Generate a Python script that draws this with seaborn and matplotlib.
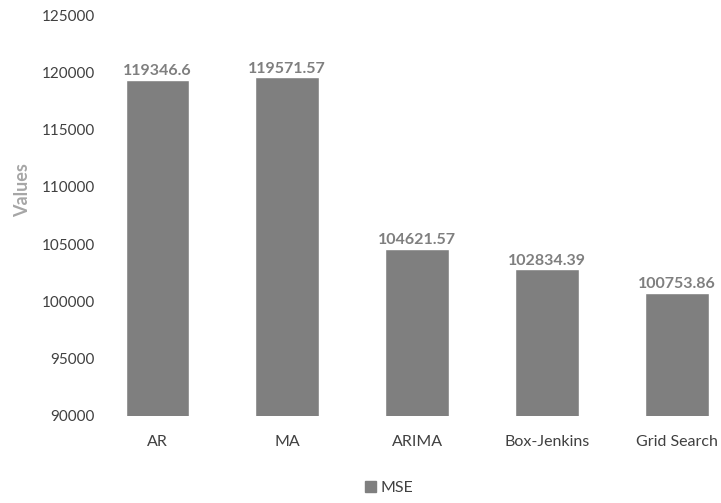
import matplotlib
matplotlib.use("Agg")
import matplotlib.pyplot as plt
import seaborn as sns
import pandas as pd

methods = ["AR", "MA", "ARIMA", "Box-Jenkins", "Grid Search"]
mse_values = [119346.6, 119571.57, 104621.57, 102834.39, 100753.86]
value_labels = ["119346.6", "119571.57", "104621.57", "102834.39", "100753.86"]
y_ticks = [90000, 95000, 100000, 105000, 110000, 115000, 120000, 125000]
series_name = "MSE"

df = pd.DataFrame({"Method": methods, "Value": mse_values, "Series": series_name})

sns.set_theme(style="white")
plt.rcParams["font.family"] = ["Lato", "DejaVu Sans"]

fig = plt.figure(figsize=(7.21, 5.03), dpi=100)
ax = fig.add_axes([0.139, 0.173, 0.861, 0.797])

bar_color = "#7f7f7f"
sns.barplot(data=df, x="Method", y="Value", hue="Series", palette=[bar_color],
            width=0.49, ax=ax, legend=False, saturation=1)

ax.set_ylim(90000, 125000)
ax.set_xlim(-0.44, 4.34)
ax.set_yticks(y_ticks)
ax.set_yticklabels([str(t) for t in y_ticks], fontsize=11, color="#404040")
ax.tick_params(axis="x", labelsize=11.5, colors="#404040", length=0, pad=14)
ax.tick_params(axis="y", length=0, pad=4)

for s in ax.spines.values():
    s.set_visible(False)

ax.set_xlabel("")
ax.set_ylabel("Values", fontsize=13, color="#a6a6a6", fontweight="bold")
ax.yaxis.set_label_coords(-0.112, 0.563)

for cont in ax.containers:
    ax.bar_label(cont, labels=value_labels, padding=1, fontsize=11.5,
                 color="#7f7f7f", fontweight="bold")

handle = plt.Rectangle((0, 0), 1, 1, color=bar_color)
fig.legend([handle], [series_name], loc="center", bbox_to_anchor=(0.54, 0.03),
           frameon=False, fontsize=11.5, handlelength=0.7, handleheight=0.7,
           handletextpad=0.3, labelcolor="#404040")

fig.savefig("out.png", dpi=100)
